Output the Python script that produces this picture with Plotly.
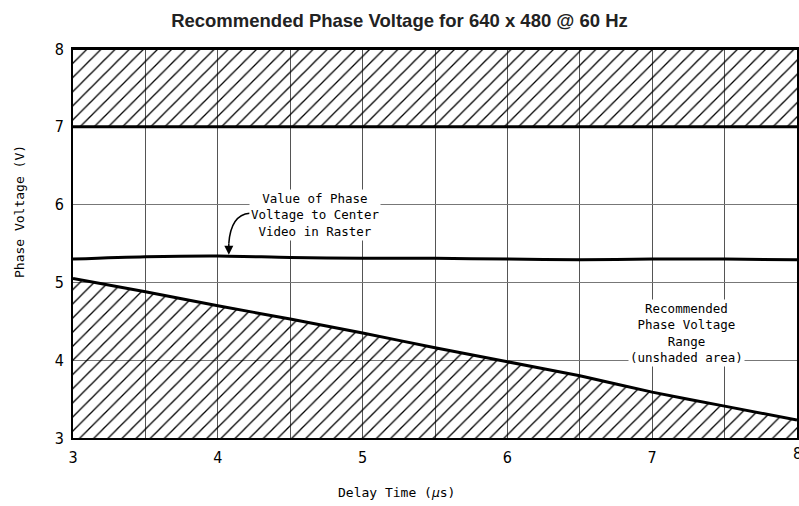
import plotly.graph_objects as go

# ---- data ----
delay_time = [3.0, 3.5, 4.0, 4.5, 5.0, 5.5, 6.0, 6.5, 7.0, 7.5, 8.0]
center_voltage = [5.30, 5.33, 5.34, 5.32, 5.31, 5.31, 5.30, 5.29, 5.30, 5.30, 5.29]
lower_limit = [5.05, 4.88, 4.70, 4.53, 4.35, 4.16, 3.98, 3.80, 3.59, 3.41, 3.23]
upper_limit = 7.0
y_top = 8.0
y_bottom = 3.0
x_range = [3, 8]
x_tickvals = [3, 3.5, 4, 4.5, 5, 5.5, 6, 6.5, 7, 7.5, 8]
x_ticktext = ["3", "", "4", "", "5", "", "6", "", "7", "", "8"]
y_tickvals = [3, 4, 5, 6, 7, 8]

title_text = "Recommended Phase Voltage for 640 x 480 @ 60 Hz"
x_title = "Delay Time (<i>μ</i>s)"
y_title = "Phase Voltage (V)"
note_center = "Value of Phase<br>Voltage to Center<br>Video in Raster"
note_range = "Recommended<br>Phase Voltage<br>Range<br>(unshaded area)"

MONO = "DejaVu Sans Mono, Liberation Mono, monospace"
TICKF = "Liberation Sans Narrow, DejaVu Sans Condensed, Liberation Sans, sans-serif"

hatch = dict(shape="/", size=10, solidity=0.13, fgcolor="black", fgopacity=1,
             bgcolor="rgba(0,0,0,0)", fillmode="overlay")

fig = go.Figure()

# lower hatched region
fig.add_trace(go.Scatter(x=delay_time, y=[y_bottom] * len(delay_time), mode="lines",
                         line=dict(width=0, color="black"), hoverinfo="skip", showlegend=False))
fig.add_trace(go.Scatter(x=delay_time, y=lower_limit, mode="lines", fill="tonexty",
                         fillcolor="rgba(0,0,0,0)", fillpattern=hatch,
                         line=dict(width=3, color="black", shape="spline", smoothing=0.5),
                         showlegend=False))

# upper hatched region
fig.add_trace(go.Scatter(x=x_range, y=[upper_limit, upper_limit], mode="lines",
                         line=dict(width=3, color="black"), showlegend=False))
fig.add_trace(go.Scatter(x=x_range, y=[y_top, y_top], mode="lines", fill="tonexty",
                         fillcolor="rgba(0,0,0,0)", fillpattern=hatch,
                         line=dict(width=2, color="black"), showlegend=False))

# center voltage curve
fig.add_trace(go.Scatter(x=delay_time, y=center_voltage, mode="lines",
                         line=dict(width=3, color="black", shape="spline", smoothing=0.8),
                         showlegend=False))

# curved arrow from label to curve
fig.add_shape(type="path", xref="x", yref="y",
              path="M 4.22,5.89 Q 4.09,5.87 4.076,5.50",
              line=dict(color="black", width=1.5))
fig.add_annotation(x=4.076, y=5.355, ax=4.076, ay=5.52, xref="x", yref="y",
                   axref="x", ayref="y", text="", showarrow=True,
                   arrowhead=2, arrowsize=1.2, arrowwidth=1.5, arrowcolor="black")

fig.add_annotation(x=4.67, y=5.87, xref="x", yref="y", text=note_center, showarrow=False,
                   font=dict(family=MONO, size=12.5, color="black"), bgcolor="white",
                   align="center", borderpad=1)
fig.add_annotation(x=7.24, y=4.35, xref="x", yref="y", text=note_range, showarrow=False,
                   font=dict(family=MONO, size=12.5, color="black"), bgcolor="white",
                   align="center", borderpad=1)

# last x tick label sits on the figure edge (plotly hides it), so draw it as an annotation
fig.add_annotation(x=x_tickvals[-1], y=0, xref="x", yref="paper", text=x_ticktext[-1],
                   showarrow=False, yanchor="top", xanchor="center", yshift=-4,
                   font=dict(family=TICKF, size=16, color="black"))

# axis titles (placed as in the reference, not centred on the axes)
fig.add_annotation(x=0.4475, y=-0.139, xref="paper", yref="paper", text=x_title,
                   showarrow=False, font=dict(family=MONO, size=13, color="black"),
                   xanchor="center", yanchor="middle")
fig.add_annotation(x=-0.0746, y=0.5835, xref="paper", yref="paper", text=y_title,
                   showarrow=False, textangle=-90, font=dict(family=MONO, size=13, color="black"),
                   xanchor="center", yanchor="middle")

fig.update_layout(
    width=799, height=506,
    margin=dict(l=73, r=2, t=49, b=68),
    paper_bgcolor="white", plot_bgcolor="white",
    title=dict(text="<b>" + title_text + "</b>", x=0.5, xanchor="center", y=0.96, yanchor="middle",
               font=dict(family="Liberation Sans, Arial, sans-serif", size=18.5, color="#222")),
    xaxis=dict(range=x_range, tickvals=x_tickvals, ticktext=x_ticktext,
               showgrid=True, gridcolor="#555", gridwidth=1,
               showline=True, linecolor="black", linewidth=2, mirror=True,
               ticks="", zeroline=False, automargin=False, ticklabelstandoff=4,
               tickfont=dict(family=TICKF, size=16, color="black")),
    yaxis=dict(range=[y_bottom, y_top], tickvals=y_tickvals,
               showgrid=True, gridcolor="#777", gridwidth=1,
               showline=True, linecolor="black", linewidth=2, mirror=True,
               ticks="", zeroline=False, automargin=False, ticklabelstandoff=4,
               tickfont=dict(family=TICKF, size=16, color="black")),
)

fig.write_html(
    "out.html",
    config={"displayModeBar": False},
    post_script="document.body.style.margin='0';document.body.style.overflow='hidden';",
)
